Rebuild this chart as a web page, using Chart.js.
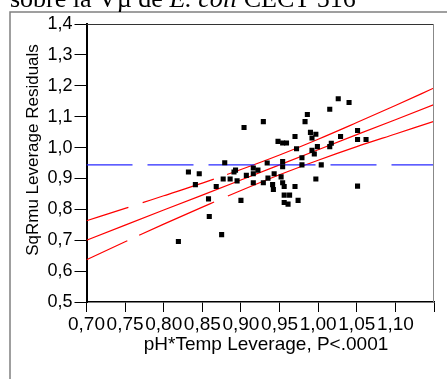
<!DOCTYPE html>
<html>
<head>
<meta charset="utf-8">
<script src="https://cdn.jsdelivr.net/npm/chart.js@4/dist/chart.umd.min.js"></script>
<style>
  html, body { margin: 0; padding: 0; background: #fff; }
  canvas { display: block; }
</style>
</head>
<body>
<canvas id="grafico" width="447" height="379"></canvas>
<script>
const titulo = ['sobre la Vµ de ', 'E. coli', ' CECT 516'];
const tituloY = 'SqRmu Leverage Residuals';
const tituloX = 'pH*Temp Leverage, P<.0001';

const xTickLabels = ['0,70', '0,75', '0,80', '0,85', '0,90', '0,95', '1,00', '1,05', '1,10', ''];
const yTickLabels = ['0,5', '0,6', '0,7', '0,8', '0,9', '1,0', '1,1', '1,2', '1,3', '1,4'];

// puntos de residuos
const residX = [0.819, 0.832, 0.841, 0.846, 0.858, 0.859, 0.868, 0.875, 0.877, 0.879,
  0.886, 0.891, 0.893, 0.895, 0.900, 0.904, 0.907, 0.916, 0.916, 0.916,
  0.922, 0.929, 0.929, 0.934, 0.935, 0.941, 0.942, 0.943, 0.948, 0.952,
  0.954, 0.954, 0.954, 0.954, 0.956, 0.956, 0.956, 0.959, 0.961, 0.963,
  0.970, 0.970, 0.972, 0.974, 0.979, 0.979, 0.983, 0.986, 0.990, 0.992,
  0.992, 0.995, 0.997, 0.997, 0.999, 1.004, 1.015, 1.015, 1.017, 1.026,
  1.029, 1.040, 1.051, 1.051, 1.051, 1.062];
const residY = [0.696, 0.921, 0.880, 0.915, 0.834, 0.777, 0.874, 0.718, 0.898, 0.951,
  0.898, 0.921, 0.927, 0.892, 0.829, 1.065, 0.910, 0.886, 0.915, 0.934,
  0.927, 1.084, 0.886, 0.950, 0.901, 0.880, 0.864, 0.915, 1.020, 0.905,
  1.015, 0.955, 0.938, 0.886, 0.874, 0.846, 0.822, 1.015, 0.817, 0.846,
  1.036, 0.874, 0.996, 0.829, 0.967, 0.944, 1.084, 1.107, 1.049, 1.031,
  0.991, 0.979, 1.043, 0.898, 1.003, 0.944, 1.124, 1.003, 1.014, 1.158,
  1.036, 1.146, 1.055, 1.026, 0.875, 1.026];

// recta ajustada y bandas de confianza
const lineaX = [0.70, 0.75, 0.80, 0.85, 0.90, 0.95, 1.00, 1.05, 1.10, 1.15];
const ajusteY = [0.700, 0.749, 0.798, 0.846, 0.895, 0.944, 0.993, 1.042, 1.090, 1.139];
const superiorY = [0.763, 0.803, 0.844, 0.885, 0.929, 0.976, 1.027, 1.081, 1.136, 1.193];
const inferiorY = [0.637, 0.695, 0.752, 0.807, 0.861, 0.912, 0.959, 1.003, 1.044, 1.085];
const mediaY = 0.944;

const rojo = '#ff0000';
const azul = '#2a2aff';
const fuente = '"Liberation Sans", Arial, sans-serif';

const aPuntos = (xs, ys) => xs.map((x, i) => ({ x, y: ys[i] }));

const decoracion = {
  id: 'decoracion',
  afterDraw(chart) {
    const ctx = chart.ctx;
    const { left, right, top, bottom } = chart.chartArea;
    ctx.save();
    // marco exterior
    ctx.strokeStyle = '#808080';
    ctx.lineWidth = 1.5;
    ctx.beginPath();
    ctx.moveTo(10, 379);
    ctx.lineTo(10, 12);
    ctx.lineTo(447, 12);
    ctx.stroke();
    // borde superior y derecho del área
    ctx.lineWidth = 1;
    ctx.strokeStyle = '#333';
    ctx.beginPath();
    ctx.moveTo(left, top + 0.5);
    ctx.lineTo(right, top + 0.5);
    ctx.stroke();
    ctx.strokeStyle = '#888';
    ctx.beginPath();
    ctx.moveTo(right - 0.5, top);
    ctx.lineTo(right - 0.5, bottom);
    ctx.stroke();

    // título cortado arriba
    ctx.fillStyle = '#000';
    ctx.textBaseline = 'alphabetic';
    ctx.textAlign = 'left';
    let x = 10;
    titulo.forEach((t, i) => {
      ctx.font = (i === 1 ? 'italic ' : '') + '26px "Liberation Serif", "Times New Roman", serif';
      ctx.fillText(t, x, 7);
      x += ctx.measureText(t).width;
    });

    // títulos de ejes
    ctx.textAlign = 'center';
    ctx.textBaseline = 'middle';
    ctx.font = '19px ' + fuente;
    ctx.fillText(tituloX, 266, 345);
    ctx.font = '17px ' + fuente;
    ctx.translate(33, 150);
    ctx.rotate(-Math.PI / 2);
    ctx.fillText(tituloY, 0, 0);
    ctx.restore();
  }
};

new Chart(document.getElementById('grafico').getContext('2d'), {
  type: 'scatter',
  data: {
    datasets: [
      {
        data: aPuntos(residX, residY),
        backgroundColor: '#000',
        borderWidth: 0,
        pointStyle: 'rect',
        pointRadius: 3.6,
        order: 0
      },
      {
        type: 'line',
        data: [{ x: lineaX[0], y: mediaY }, { x: lineaX[lineaX.length - 1], y: mediaY }],
        borderColor: azul,
        borderWidth: 1.2,
        borderDash: [46, 15],
        pointRadius: 0,
        order: 1
      },
      {
        type: 'line',
        data: aPuntos(lineaX, ajusteY),
        borderColor: rojo,
        borderWidth: 1.2,
        pointRadius: 0,
        order: 1
      },
      {
        type: 'line',
        data: aPuntos(lineaX, superiorY),
        borderColor: rojo,
        borderWidth: 1.2,
        borderDash: [44, 15, 75, 14, 1000],
        cubicInterpolationMode: 'monotone',
        pointRadius: 0,
        order: 1
      },
      {
        type: 'line',
        data: aPuntos(lineaX, inferiorY),
        borderColor: rojo,
        borderWidth: 1.2,
        borderDash: [45, 13, 82, 15, 1000],
        cubicInterpolationMode: 'monotone',
        pointRadius: 0,
        order: 1
      }
    ]
  },
  options: {
    responsive: false,
    animation: false,
    layout: { padding: { left: 0, right: 13, top: 24, bottom: 37 } },
    plugins: {
      legend: { display: false },
      tooltip: { enabled: false }
    },
    scales: {
      x: {
        type: 'linear',
        min: 0.70,
        max: 1.15,
        afterFit: s => { s.height = 40; },
        border: { color: '#000', width: 1.5 },
        grid: { drawOnChartArea: false, drawTicks: true, tickLength: 10, color: '#000', tickColor: '#000' },
        ticks: {
          stepSize: 0.05,
          autoSkip: false,
          maxRotation: 0,
          padding: 1,
          color: '#000',
          font: { family: fuente, size: 19 },
          callback: (v, i) => xTickLabels[i]
        }
      },
      y: {
        min: 0.5,
        max: 1.4,
        afterFit: s => { s.width = 86.5; },
        border: { color: '#000', width: 2 },
        grid: { drawOnChartArea: false, drawTicks: true, tickLength: 12, color: '#000', tickColor: '#000' },
        ticks: {
          stepSize: 0.1,
          padding: 2,
          color: '#000',
          font: { family: fuente, size: 18 },
          callback: (v, i) => yTickLabels[i]
        }
      }
    }
  },
  plugins: [decoracion]
});
</script>
</body>
</html>
